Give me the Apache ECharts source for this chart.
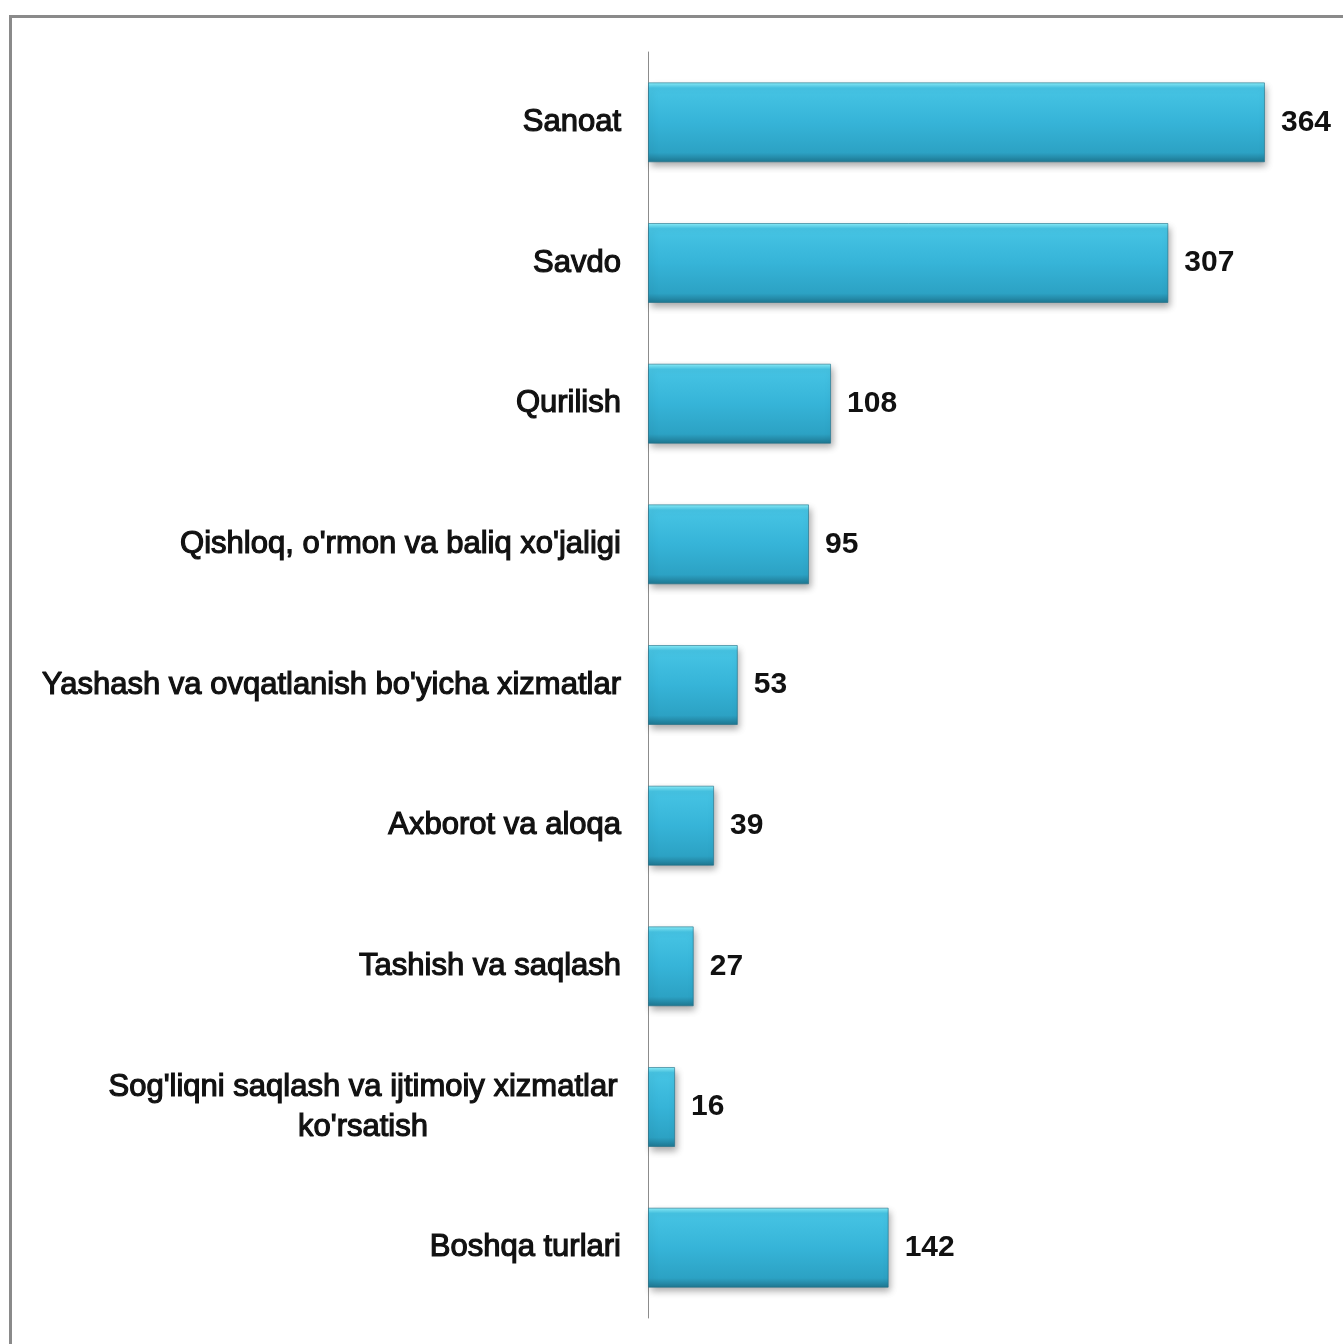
<!DOCTYPE html>
<html>
<head>
<meta charset="utf-8">
<script src="https://cdn.jsdelivr.net/npm/echarts@6/dist/echarts.min.js"></script>
<style>
html,body{margin:0;padding:0;background:#fff;}
#chart{width:1343px;height:1344px;}
</style>
</head>
<body>
<div id="chart"></div>
<script>
const categories = [
  "Sanoat",
  "Savdo",
  "Qurilish",
  "Qishloq, o'rmon va baliq xo'jaligi",
  "Yashash va ovqatlanish bo'yicha xizmatlar",
  "Axborot va aloqa",
  "Tashish va saqlash",
  "Sog'liqni saqlash va ijtimoiy xizmatlar\nko'rsatish",
  "Boshqa turlari"
];
const values = [364, 307, 108, 95, 53, 39, 27, 16, 142];

const FONT = "'Liberation Sans', Arial, sans-serif";

const chart = echarts.init(document.getElementById('chart'), null, {renderer: 'canvas'});

const barColor = new echarts.graphic.LinearGradient(0, 0, 0, 1, [
  {offset: 0, color: '#8ef0fa'},
  {offset: 0.07, color: '#46c4e4'},
  {offset: 0.5, color: '#36b4d8'},
  {offset: 0.88, color: '#2ca2c4'},
  {offset: 1, color: '#1e7690'}
]);

const labelStyle = {
  color: '#111',
  fontFamily: FONT,
  fontWeight: 'normal',
  fontSize: 31,
  lineHeight: 40,
  textBorderColor: '#111',
  textBorderWidth: 1.2
};

chart.setOption({
  backgroundColor: '#ffffff',
  animation: false,
  graphic: [{
    type: 'rect',
    shape: {x: 10.5, y: 16.5, width: 1400, height: 1400},
    style: {fill: 'none', stroke: '#8a8a8a', lineWidth: 3},
    z: 100
  }],
  grid: {left: 648, right: 17, top: 52, bottom: 26, containLabel: false, outerBoundsMode: 'none'},
  xAxis: {
    type: 'value',
    min: 0,
    max: 400,
    show: false,
    splitLine: {show: false}
  },
  yAxis: {
    type: 'category',
    inverse: true,
    data: categories,
    axisLine: {show: true, lineStyle: {color: '#8c8c8c', width: 1}},
    axisTick: {show: false},
    axisLabel: Object.assign({
      margin: 27,
      formatter: function (v) {
        if (v.indexOf('\n') >= 0) {
          return v.split('\n').map(function (s) { return '{c|' + s + '}'; }).join('\n');
        }
        return v;
      },
      rich: {
        c: Object.assign({width: 516, align: 'center'}, labelStyle)
      }
    }, labelStyle)
  },
  series: [{
    type: 'bar',
    data: values,
    barWidth: 80,
    itemStyle: {
      color: barColor,
      borderColor: 'rgba(30,110,135,0.6)',
      borderWidth: 1,
      shadowColor: 'rgba(0,0,0,0.35)',
      shadowBlur: 7,
      shadowOffsetX: 2,
      shadowOffsetY: 4
    },
    label: {
      show: true,
      position: 'right',
      distance: 16,
      color: '#111',
      fontFamily: FONT,
      fontWeight: 'bold',
      fontSize: 30
    }
  }]
});
</script>
</body>
</html>
